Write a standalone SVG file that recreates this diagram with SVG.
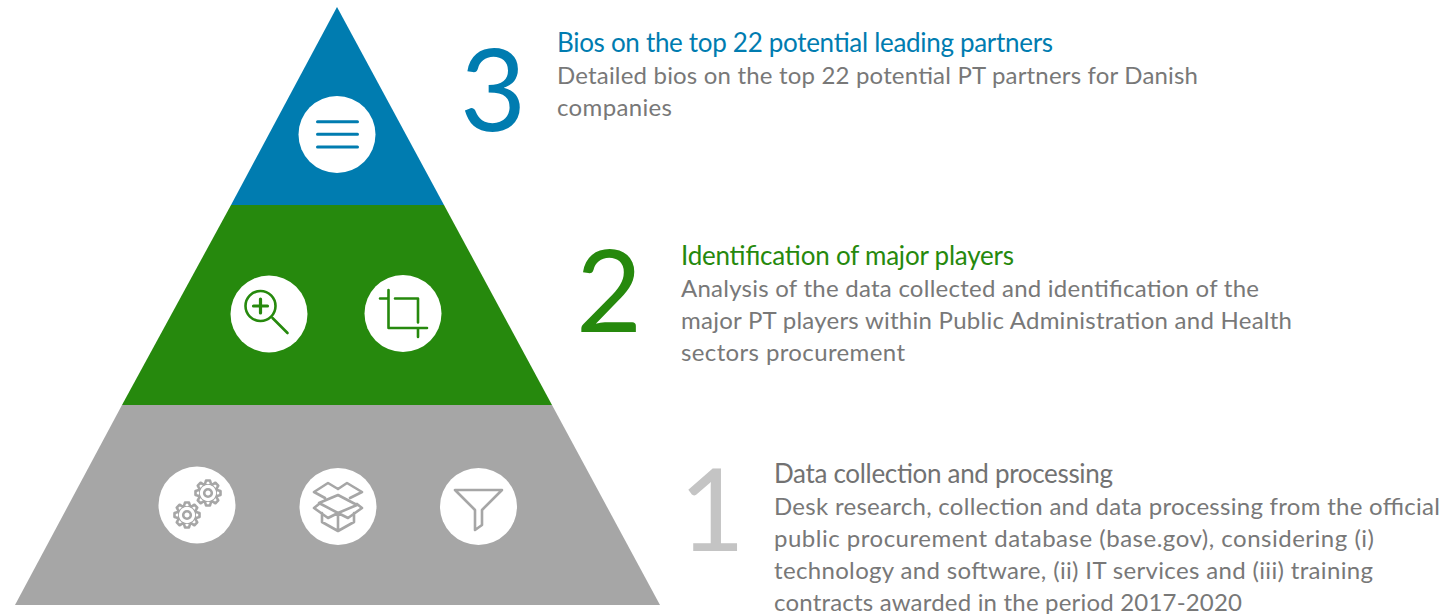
<svg xmlns="http://www.w3.org/2000/svg" width="1448" height="614" viewBox="0 0 1448 614">
<defs>
<g id="gear"><circle cx="0" cy="0" r="3.800"/><circle cx="0" cy="0" r="9.500"/>
<g id="teeth"><path class="t" d="M-3 -9 L-2 -12.500 H2 L3 -9"/><path class="t" transform="rotate(45)" d="M-3 -9 L-2 -12.500 H2 L3 -9"/><path class="t" transform="rotate(90)" d="M-3 -9 L-2 -12.500 H2 L3 -9"/><path class="t" transform="rotate(135)" d="M-3 -9 L-2 -12.500 H2 L3 -9"/><path class="t" transform="rotate(180)" d="M-3 -9 L-2 -12.500 H2 L3 -9"/><path class="t" transform="rotate(225)" d="M-3 -9 L-2 -12.500 H2 L3 -9"/><path class="t" transform="rotate(270)" d="M-3 -9 L-2 -12.500 H2 L3 -9"/><path class="t" transform="rotate(315)" d="M-3 -9 L-2 -12.500 H2 L3 -9"/></g></g>
</defs>
<style>
text{font-family:"Lato","Open Sans",sans-serif}
.b{font-size:24px;fill:#787878}
.h{font-size:26px}
.n{font-size:114px}
.c{fill:#fff}
.i{fill:none;stroke-width:2.600;stroke-linecap:round;stroke-linejoin:round}
.t{fill:#fff}
.bl{stroke:#007cb0;stroke-width:3}.gr{stroke:#26890d}.gy{stroke:#a6a6a6}
</style>
<g id="tier-3"><polygon points="337,7 444,205 231,205" fill="#007cb0"/><circle class="c" cx="337" cy="134.500" r="38.500"/>
<path class="i bl" d="M317.500 121.700h40M317.500 134.300h40M317.500 147h40"/></g>
<g id="tier-2"><polygon points="231,205 444,205 552,405 122,405" fill="#26890d"/><circle class="c" cx="269" cy="314" r="38.500"/><circle class="c" cx="403" cy="313.500" r="38.500"/>
<path class="i gr" d="M272.500 318l15 15M388.500 290v38h38.500M380 298.500h7M395 298.500h23v24M418 329v8"/><circle class="i gr" cx="260.500" cy="306" r="15"/><path class="i gr" style="stroke-width:3.200" d="M260.500 299v14M253.500 306h14"/></g>
<g id="tier-1"><polygon points="122,405 552,405 660,605 15,605" fill="#a6a6a6"/><circle class="c" cx="197" cy="505" r="38.500"/><circle class="c" cx="338" cy="506.500" r="38.500"/><circle class="c" cx="478.500" cy="506.500" r="38.500"/>
<g class="i gy">
<use href="#gear" x="208" y="493"/><use href="#gear" x="187" y="515"/>
<path d="M338 495l19 10-19 8-19-10zM338 489l-10-6-14 9 11 6M338 489l9-6 15 9-12 6M319 504l-5 4 14 10 10-5M357 504l5 4-14 10-10-5M322 513v9l16 9 16-9v-9M338 513v18"/>
<path d="M455 490h47l-20 20v15l-7 5v-20z"/></g></g>
<g id="label-3"><text class="n" x="460" y="131" fill="#007cb0">3</text><text class="h" x="557" y="52" fill="#007cb0" textLength="496">Bios on the top 22 potential leading partners</text><text class="b" x="557" y="84" textLength="641">Detailed bios on the top 22 potential PT partners for Danish</text><text class="b" x="557" y="116" textLength="115">companies</text></g>
<g id="label-2"><text class="n" x="576" y="332" fill="#26890d">2</text><text class="h" x="681" y="265" fill="#26890d" textLength="333">Identification of major players</text><text class="b" x="681" y="297" textLength="578">Analysis of the data collected and identification of the</text><text class="b" x="681" y="329" textLength="611">major PT players within Public Administration and Health</text><text class="b" x="681" y="361" textLength="224">sectors procurement</text></g>
<g id="label-1"><text class="n" x="679" y="551" fill="#c4c4c4">1</text><text class="h" x="774" y="483" fill="#727272" textLength="339">Data collection and processing</text><text class="b" x="774" y="515" textLength="666">Desk research, collection and data processing from the official</text><text class="b" x="774" y="547" textLength="600">public procurement database (base.gov), considering (i)</text><text class="b" x="774" y="579" textLength="599">technology and software, (ii) IT services and (iii) training</text><text class="b" x="774" y="611" textLength="468">contracts awarded in the period 2017-2020</text></g>
</svg>
